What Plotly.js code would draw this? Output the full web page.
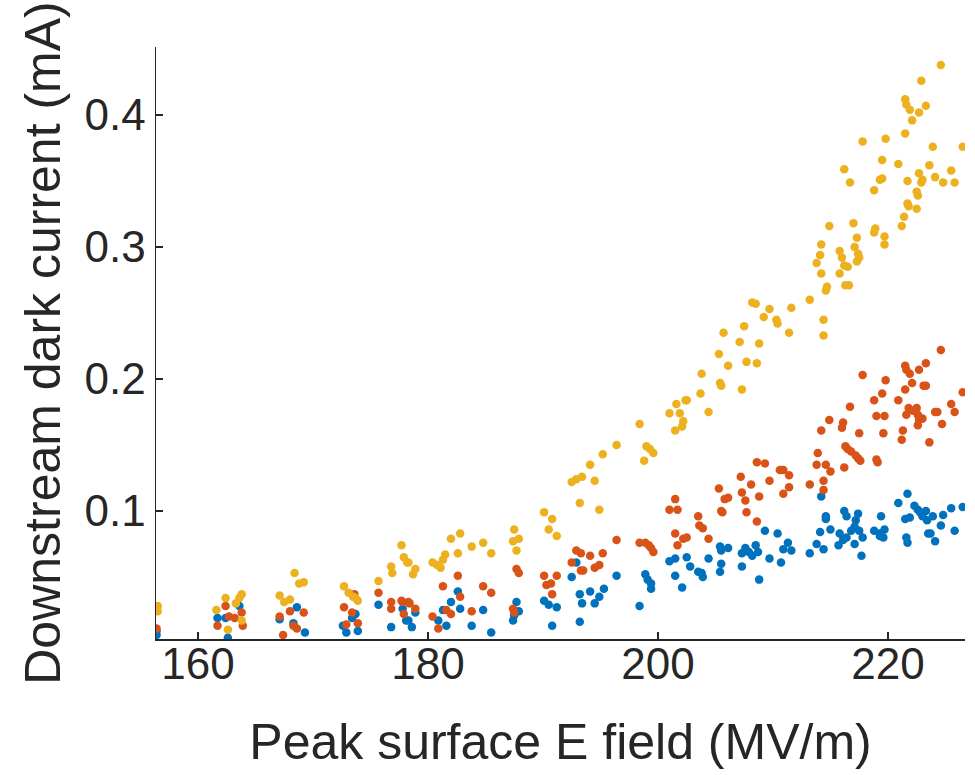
<!DOCTYPE html>
<html>
<head>
<meta charset="utf-8">
<script src="https://cdn.plot.ly/plotly-3.0.1.min.js"></script>
<style>html,body{margin:0;padding:0;background:#fff;}#chart{width:975px;height:775px;}</style>
</head>
<body>
<div id="chart"></div>
<script>
// Peak surface E field (MV/m) and downstream dark current (mA), three series
const xBlue = [156.4,156.4,161.7,162.4,162.6,163.6,167.1,168.3,168.6,169.3,172.6,172.9,173.4,173.7,173.9,175.7,176.8,177.8,178.1,178.3,178.6,178.9,180.9,181.3,181.6,182.0,182.6,182.8,183.8,184.8,185.5,187.4,187.5,187.7,187.9,190.1,190.5,190.8,191.2,192.5,192.9,193.2,193.2,193.4,194.1,194.5,194.9,195.3,196.4,198.4,198.9,199.1,199.4,199.4,201.0,201.5,201.5,202.1,202.5,202.8,203.5,203.8,203.9,204.4,205.4,205.5,205.5,205.4,206.1,207.3,207.3,207.6,207.9,208.2,208.5,208.7,208.8,209.3,209.7,210.4,210.7,210.9,211.3,211.6,213.2,213.8,214.1,214.2,214.4,214.6,214.6,215.0,215.7,215.8,216.1,216.2,216.4,216.4,216.8,217.1,217.2,217.4,217.5,217.1,217.8,217.7,218.8,219.3,219.3,219.4,219.7,219.6,220.9,221.5,221.7,221.6,221.7,221.9,222.3,222.6,222.8,223.0,223.3,223.4,223.5,223.7,223.9,224.1,224.6,224.8,225.5,225.8,226.5];
const yBlue = [0.006,0.009,0.019,0.019,0.004,0.028,0.018,0.015,0.027,0.008,0.013,0.008,0.019,0.022,0.009,0.029,0.012,0.026,0.017,0.017,0.012,0.023,0.017,0.025,0.013,0.031,0.039,0.026,0.013,0.025,0.008,0.017,0.021,0.031,0.024,0.032,0.029,0.013,0.027,0.050,0.061,0.037,0.016,0.030,0.039,0.030,0.035,0.041,0.051,0.028,0.052,0.048,0.045,0.041,0.062,0.064,0.051,0.042,0.065,0.058,0.054,0.053,0.050,0.064,0.073,0.070,0.060,0.054,0.072,0.068,0.058,0.072,0.069,0.066,0.074,0.069,0.048,0.085,0.064,0.083,0.061,0.071,0.076,0.070,0.068,0.075,0.084,0.111,0.071,0.094,0.096,0.086,0.074,0.083,0.078,0.100,0.096,0.080,0.085,0.088,0.093,0.098,0.085,0.075,0.080,0.066,0.085,0.083,0.081,0.096,0.086,0.080,0.106,0.094,0.113,0.080,0.076,0.095,0.104,0.101,0.099,0.096,0.100,0.093,0.083,0.083,0.096,0.077,0.089,0.097,0.102,0.085,0.103];

const xOrange = [156.4,161.7,162.4,162.7,163.2,163.8,163.9,167.1,167.4,168.0,168.3,168.6,169.2,172.7,172.9,173.4,173.6,173.9,175.7,176.8,176.8,177.7,177.8,177.9,178.3,178.4,178.9,180.4,180.9,181.3,181.6,182.0,182.6,182.8,183.8,184.8,185.5,187.4,187.5,187.7,187.9,190.1,190.3,190.7,190.8,191.2,192.5,192.9,193.3,193.3,193.5,194.1,194.5,194.9,195.2,196.4,198.4,198.9,199.2,199.4,199.6,201.0,201.5,201.7,201.5,201.7,202.5,202.2,203.5,203.6,203.9,204.4,205.3,205.5,205.6,205.8,206.1,207.2,207.3,207.6,207.7,208.1,208.6,208.8,208.6,209.3,209.7,210.6,210.9,211.4,211.4,210.9,213.2,213.8,213.9,214.2,214.4,214.4,214.6,214.9,215.0,216.1,216.0,216.2,216.3,216.5,216.7,216.8,217.2,217.4,217.5,217.6,217.8,218.8,219.0,219.1,219.0,219.5,219.6,219.7,219.8,220.9,221.3,221.2,221.6,221.5,221.6,221.9,221.5,222.1,221.8,222.2,222.5,222.6,222.7,222.6,223.0,222.7,223.3,223.1,223.3,223.6,224.1,224.3,224.6,224.7,225.5,225.8,226.5];
const yOrange = [0.011,0.013,0.028,0.020,0.019,0.023,0.013,0.020,0.006,0.024,0.013,0.011,0.023,0.027,0.014,0.023,0.037,0.015,0.038,0.031,0.026,0.032,0.031,0.022,0.031,0.030,0.026,0.020,0.011,0.043,0.025,0.022,0.051,0.035,0.024,0.043,0.038,0.026,0.023,0.056,0.053,0.051,0.044,0.045,0.037,0.051,0.061,0.070,0.068,0.055,0.055,0.066,0.057,0.059,0.068,0.078,0.076,0.076,0.074,0.072,0.069,0.101,0.109,0.101,0.083,0.074,0.080,0.079,0.096,0.089,0.087,0.079,0.117,0.100,0.099,0.109,0.110,0.126,0.114,0.108,0.099,0.120,0.137,0.111,0.092,0.136,0.123,0.131,0.131,0.127,0.118,0.113,0.120,0.135,0.144,0.161,0.123,0.116,0.135,0.169,0.130,0.167,0.163,0.133,0.149,0.147,0.179,0.145,0.142,0.140,0.159,0.138,0.203,0.184,0.139,0.137,0.172,0.189,0.159,0.172,0.199,0.184,0.161,0.154,0.173,0.192,0.207,0.204,0.210,0.197,0.178,0.176,0.178,0.173,0.207,0.165,0.170,0.169,0.212,0.195,0.195,0.152,0.175,0.175,0.222,0.166,0.181,0.175,0.190];

const xYellow = [156.5,156.5,161.6,162.4,162.6,163.3,163.6,163.8,163.8,167.1,167.5,168.0,168.4,168.8,169.2,172.7,173.1,173.5,173.7,173.9,175.7,176.8,176.9,177.7,177.9,178.2,178.3,178.7,178.9,180.4,180.8,181.1,181.5,181.3,182.0,182.6,182.8,183.8,184.8,185.5,187.4,187.5,187.7,187.9,190.1,190.5,190.8,191.2,192.5,192.9,193.2,193.4,194.1,194.5,194.9,195.2,196.4,198.4,198.8,199.0,199.3,199.6,201.0,201.5,201.6,201.9,202.2,202.4,202.5,202.1,203.7,203.8,204.4,205.3,205.4,205.5,205.7,206.1,207.1,207.3,207.5,207.7,208.2,208.5,208.6,208.8,209.2,209.7,210.3,210.4,211.4,211.6,213.2,213.8,214.1,214.2,214.2,214.4,214.4,214.6,214.7,214.9,215.8,215.8,216.0,216.2,216.3,216.5,216.6,216.2,216.7,217.0,217.1,217.3,217.4,217.5,217.3,217.8,218.8,218.9,218.8,219.3,219.5,219.5,219.7,219.7,219.8,220.9,221.2,221.4,221.5,221.5,221.6,221.9,221.7,221.8,221.7,222.1,222.5,222.6,222.5,222.7,222.7,222.9,223.0,222.9,223.3,223.6,223.9,224.1,224.6,224.8,225.5,225.8,226.5];
const yYellow = [0.028,0.024,0.025,0.034,0.010,0.030,0.034,0.037,0.017,0.036,0.031,0.033,0.053,0.045,0.046,0.043,0.038,0.035,0.034,0.032,0.047,0.058,0.053,0.074,0.065,0.061,0.061,0.052,0.056,0.061,0.059,0.057,0.067,0.063,0.079,0.068,0.083,0.073,0.076,0.068,0.077,0.086,0.070,0.079,0.099,0.086,0.094,0.081,0.122,0.124,0.106,0.126,0.135,0.123,0.101,0.143,0.150,0.166,0.138,0.149,0.147,0.144,0.174,0.161,0.181,0.174,0.168,0.184,0.184,0.164,0.189,0.204,0.175,0.219,0.197,0.195,0.235,0.210,0.228,0.192,0.240,0.213,0.258,0.257,0.212,0.227,0.247,0.253,0.245,0.242,0.235,0.254,0.260,0.288,0.294,0.280,0.302,0.245,0.233,0.267,0.270,0.316,0.280,0.297,0.292,0.286,0.271,0.285,0.271,0.359,0.349,0.318,0.300,0.307,0.295,0.292,0.289,0.380,0.311,0.314,0.343,0.351,0.352,0.366,0.308,0.302,0.382,0.363,0.316,0.323,0.386,0.412,0.408,0.404,0.333,0.331,0.350,0.396,0.329,0.339,0.342,0.356,0.402,0.426,0.351,0.349,0.407,0.362,0.376,0.353,0.438,0.349,0.358,0.349,0.376];

const xTicks = [160, 180, 200, 220];
const yTicks = [0.1, 0.2, 0.3, 0.4];
const yTickText = ['0.1', '0.2', '0.3', '0.4'];

const seriesColors = ['#0072BD', '#D95319', '#EDB120'];
const mk = (x, y, c) => ({
  x: x, y: y, type: 'scatter', mode: 'markers',
  marker: {color: c, size: 8.5, line: {width: 0}},
  showlegend: false, hoverinfo: 'x+y'
});

const data = [
  mk(xBlue, yBlue, seriesColors[0]),
  mk(xOrange, yOrange, seriesColors[1]),
  mk(xYellow, yYellow, seriesColors[2])
];

const fam = 'Liberation Sans, Arial, Helvetica, sans-serif';
const tickFont = {family: fam, size: 44, color: '#262626'};
const titleFont = {family: fam, size: 50, color: '#262626'};
const layout = {
  width: 975, height: 775,
  margin: {l: 156, r: 10, t: 47, b: 136},
  paper_bgcolor: '#ffffff', plot_bgcolor: '#ffffff',
  font: tickFont,
  xaxis: {
    range: [156.35, 226.7],
    tickvals: xTicks,
    ticktext: xTicks.map(String),
    ticks: 'inside', ticklen: 7, tickwidth: 1.2, tickcolor: '#262626',
    ticklabelstandoff: -14,
    showline: true, linecolor: '#262626', linewidth: 1.5,
    showgrid: false, zeroline: false,
    tickfont: tickFont,
    title: {text: 'Peak surface E field (MV/m)', font: titleFont, standoff: 36}
  },
  yaxis: {
    range: [0.003, 0.4516],
    tickvals: yTicks,
    ticktext: yTickText,
    ticks: 'inside', ticklen: 7, tickwidth: 1.2, tickcolor: '#262626',
    showline: true, linecolor: '#262626', linewidth: 1.5,
    showgrid: false, zeroline: false,
    tickfont: tickFont,
    title: {text: 'Downstream dark current (mA)', font: titleFont, standoff: 8}
  }
};

Plotly.newPlot('chart', data, layout, {displayModeBar: false, staticPlot: true});
</script>
</body>
</html>
